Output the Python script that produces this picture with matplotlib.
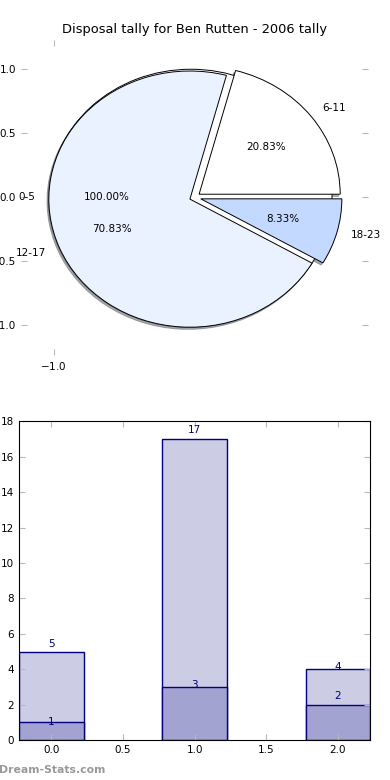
import matplotlib
matplotlib.use('Agg')
import matplotlib.pyplot as plt
from matplotlib.ticker import FormatStrFormatter

# data
title = 'Disposal tally for Ben Rutten - 2006 tally'
age_groups = ['0-5', '6-11', '12-17', '18-23']
disposals = [0, 5, 17, 2]
pie_colors = ['white', 'white', '#EBF2FF', '#C4D9FF']

bar_pos = [0, 1, 2]
bar_total = [5, 17, 4]
bar_part = [1, 3, 2]

# label offsets above the bar tops (layout only)
total_off = [0.45, 0.5, 0.15]
part_off = [0.05, 0.1, 0.5]

navy = '#000080'
tick_grey = '#b8b8b8'

fig = plt.figure(figsize=(3.9, 7.8), dpi=100)

# ---- pie ----
ax1 = fig.add_axes([0.054, 0.545, 0.89, 0.404])
wp = dict(edgecolor='black', linewidth=0.7)
tp = dict(fontsize=7.5)
shad = dict(ox=-0.009, oy=-0.012, shade=0.62)
# the empty 0-5 group is rendered by the original chart as a full circle at 100%
ax1.pie([disposals[0] or 1], labels=age_groups[:1], colors=pie_colors[:1],
        explode=[0.026], autopct='%1.2f%%', shadow=shad,
        wedgeprops=wp, textprops=tp)
ax1.pie(disposals[1:], labels=age_groups[1:], colors=pie_colors[1:],
        explode=[0.04, 0.036, 0.045], autopct='%1.2f%%', shadow=shad,
        wedgeprops=wp, textprops=tp)
ax1.set_aspect('auto')
ax1.set_frame_on(False)
ax1.set_xlim(-1.23, 1.23)
ax1.set_ylim(-1.23, 1.23)
ax1.set_xticks([-1.0])
ax1.set_yticks([-1.0, -0.5, 0.0, 0.5, 1.0])
ax1.xaxis.set_major_formatter(FormatStrFormatter('$%.1f$'))
ax1.tick_params(direction='in', color=tick_grey, top=True, right=True,
                labelsize=7.5, length=4)
ax1.set_title(title, fontsize=9.4, pad=5)

# ---- bars ----
ax2 = fig.add_axes([0.049, 0.051, 0.9, 0.409])
ax2.bar(bar_pos, bar_total, width=0.45, color='#CCCCE5', edgecolor=navy, linewidth=1)
ax2.bar(bar_pos, bar_part, width=0.45, color='#A3A3D1', edgecolor=navy, linewidth=1)
for x, v, off in zip(bar_pos, bar_total, total_off):
    ax2.text(x, v + off, str(v), ha='center', va='center', color=navy, fontsize=7.5)
for x, v, off in zip(bar_pos, bar_part, part_off):
    ax2.text(x, v + off, str(v), ha='center', va='center', color=navy, fontsize=7.5)
ax2.set_xlim(-0.225, 2.225)
ax2.set_ylim(0, 18)
ax2.set_yticks(range(0, 19, 2))
ax2.set_xticks([0.0, 0.5, 1.0, 1.5, 2.0])
ax2.tick_params(direction='in', color=tick_grey, top=True, right=True,
                labelsize=7.5, length=4)

fig.text(-0.003, 0.0128, 'Dream-Stats.com', fontsize=7.8, fontweight='bold',
         color='#999999', va='center')

fig.savefig('out.png', dpi=100)
